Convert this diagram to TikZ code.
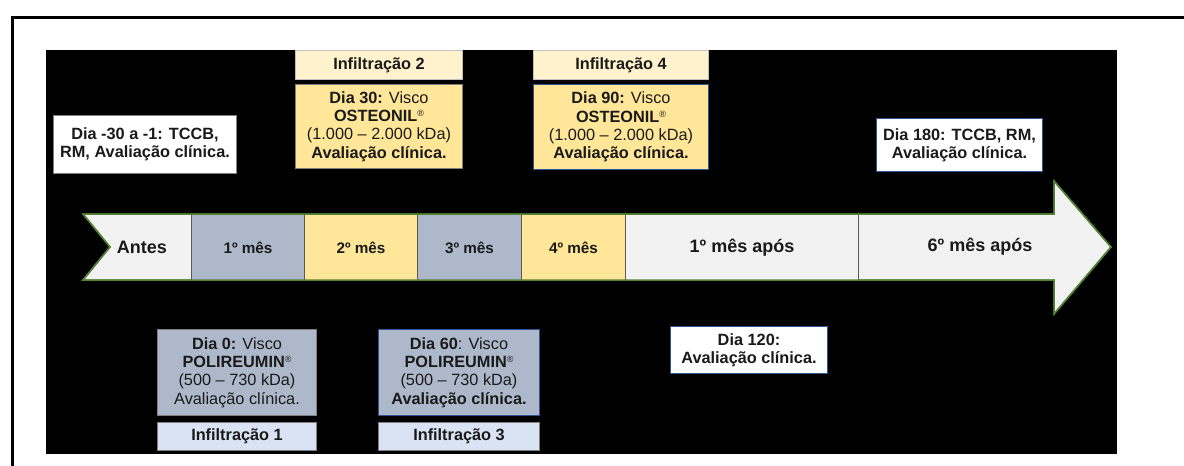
\documentclass[tikz,border=0pt]{standalone}
\usepackage{fontspec}
\setmainfont{Liberation Sans}
\definecolor{mesgray}{HTML}{ADB9CA}
\definecolor{mesyellow}{HTML}{FFE699}
\definecolor{infyellow}{HTML}{FFF2CC}
\definecolor{infblue}{HTML}{DAE3F3}
\definecolor{arrowfill}{HTML}{F2F2F2}
\definecolor{arrowline}{HTML}{548235}
\definecolor{boxblue}{HTML}{2F5597}
\definecolor{boxgray}{HTML}{7F7F7F}
\definecolor{divgray}{HTML}{595959}
\definecolor{txt}{HTML}{1A1A1A}
\newcommand{\regmark}{\raisebox{5pt}{\fontsize{9}{9}\selectfont ®}}
\tikzset{
  infobox/.style={draw=boxgray, line width=1pt, inner sep=0pt, anchor=north west,
    align=center, text=txt, font=\fontsize{16.3}{18.3}\selectfont},
  tagbox/.style={infobox, font=\fontsize{16.3}{18.3}\selectfont\bfseries},
  monthbox/.style={draw=divgray, line width=1pt, inner sep=0pt, anchor=north west,
    minimum height=66pt, text=txt, font=\fontsize{15.3}{18}\selectfont\bfseries},
  bigmonth/.style={text=txt, font=\fontsize{18}{20}\selectfont\bfseries},
}
\begin{document}
\begin{tikzpicture}[x=1pt,y=-1pt]
\useasboundingbox (0,0) rectangle (1184,466);
% frame and background
\draw[line width=3pt] (1184,17) -- (12,17) -- (12,466);
\fill[black] (46,50) rectangle (1117,454);
% timeline arrow
\draw[fill=arrowfill, draw=arrowline, line width=1.5pt] (83,214) -- (1054,214) -- (1054,181) -- (1111,247)
  -- (1054,314) -- (1054,280) -- (83,280) -- (110,247) -- cycle;
\node[monthbox, fill=mesgray, minimum width=113pt] (m1) at (191,214) {1º mês};
\node[monthbox, fill=mesyellow, minimum width=113pt] (m2) at (304,214) {2º mês};
\node[monthbox, fill=mesgray, minimum width=104pt] (m3) at (417,214) {3º mês};
\node[monthbox, fill=mesyellow, minimum width=104pt] (m4) at (521,214) {\raisebox{-2pt}{4º mês}};
\node[monthbox, fill=arrowfill, minimum width=233pt, font=\fontsize{18}{20}\selectfont\bfseries] (after1) at (625,214) {1º mês após};
\node[bigmonth] (antes) at (142,247) {Antes};
\node[bigmonth] (after6) at (980,247) {6º mês após};
\draw[draw=arrowline, line width=1.5pt] (83,214) -- (1054,214) -- (1054,181) -- (1111,247)
  -- (1054,314) -- (1054,280) -- (83,280) -- (110,247) -- cycle;
% boxes above
\node[tagbox, fill=white, minimum width=183pt, minimum height=58pt] (pre) at (53,115)
  {Dia -30 a -1: TCCB,\\RM, Avaliação clínica.};
\node[tagbox, draw=boxgray!50, fill=infyellow, minimum width=167pt, minimum height=29pt] (inf2) at (295,50) {Infiltração 2};
\node[infobox, fill=mesyellow, minimum width=167pt, minimum height=84pt] (dia30) at (295,84)
  {\textbf{Dia 30:} Visco\\\textbf{OSTEONIL}\regmark\\(1.000 – 2.000 kDa)\\\textbf{Avaliação clínica.}};
\node[tagbox, draw=boxgray!50, fill=infyellow, minimum width=175pt, minimum height=29pt] (inf4) at (533,50) {Infiltração 4};
\node[infobox, draw=boxblue, fill=mesyellow, minimum width=175pt, minimum height=85pt] (dia90) at (533,84)
  {\textbf{Dia 90:} Visco\\\textbf{OSTEONIL}\regmark\\(1.000 – 2.000 kDa)\\\textbf{Avaliação clínica.}};
\node[tagbox, draw=boxblue, fill=white, minimum width=166pt, minimum height=53pt] (dia180) at (876,118)
  {Dia 180: TCCB, RM,\\Avaliação clínica.};
% boxes below
\node[infobox, fill=mesgray, minimum width=159pt, minimum height=86pt] (dia0) at (157,329)
  {\textbf{Dia 0:} Visco\\\textbf{POLIREUMIN}\regmark\\(500 – 730 kDa)\\Avaliação clínica.};
\node[tagbox, fill=infblue, minimum width=159pt, minimum height=28pt] (inf1) at (157,422) {Infiltração 1};
\node[infobox, draw=boxblue, fill=mesgray, minimum width=161pt, minimum height=86pt] (dia60) at (378,329)
  {\textbf{Dia 60}: Visco\\\textbf{POLIREUMIN}\regmark\\(500 – 730 kDa)\\\textbf{Avaliação clínica.}};
\node[tagbox, fill=infblue, minimum width=161pt, minimum height=28pt] (inf3) at (378,422) {Infiltração 3};
\node[tagbox, draw=boxblue, fill=white, minimum width=157pt, minimum height=47pt] (dia120) at (670,326)
  {Dia 120:\\Avaliação clínica.};
\end{tikzpicture}
\end{document}
